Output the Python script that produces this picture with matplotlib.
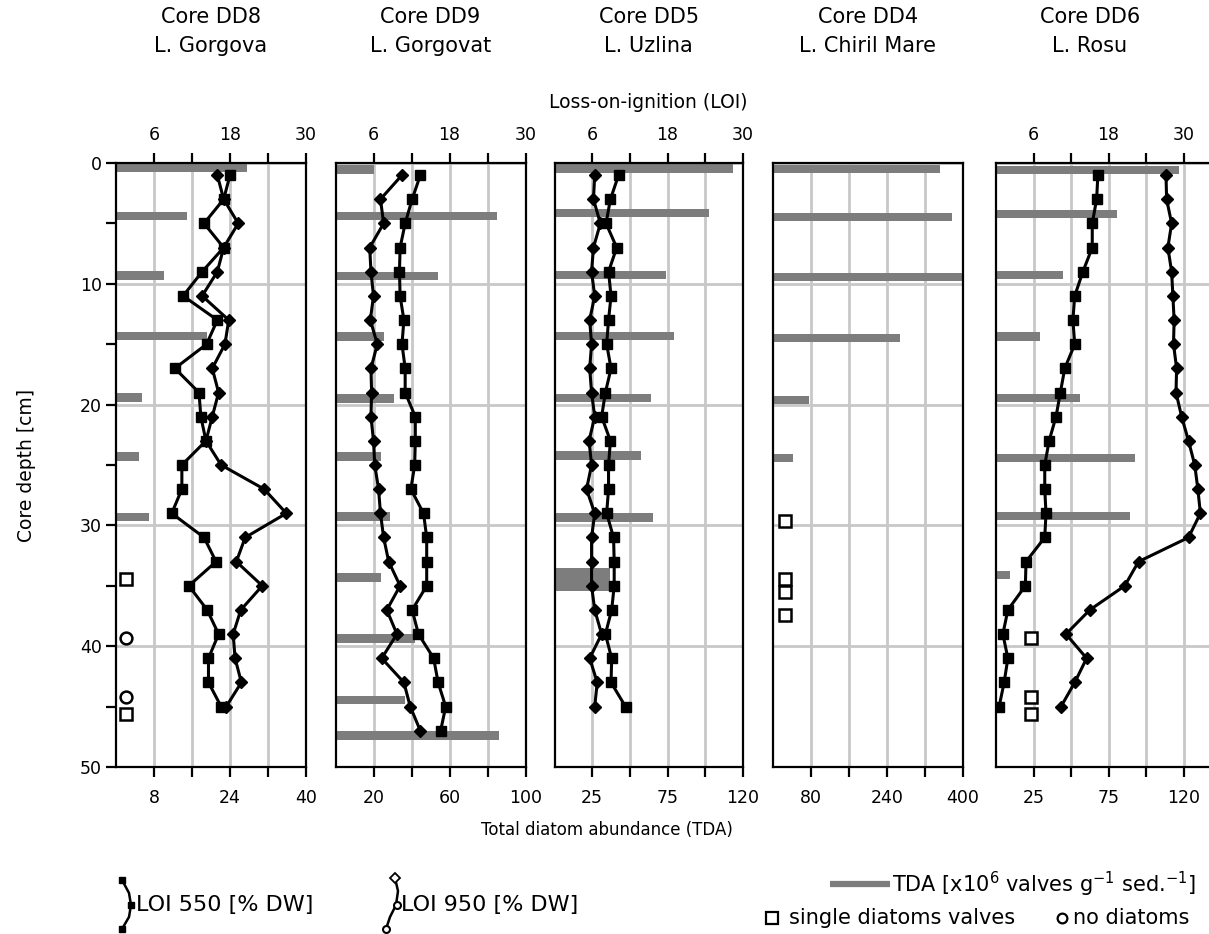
import matplotlib
matplotlib.use("Agg")
import matplotlib.pyplot as plt

plt.rcParams['font.family'] = ['DejaVu Sans']
plt.rcParams['mathtext.fontset'] = 'dejavusans'

# ---------------- data ----------------
titles = [("Core DD8", "L. Gorgova"), ("Core DD9", "L. Gorgovat"), ("Core DD5", "L. Uzlina"),
          ("Core DD4", "L. Chiril Mare"), ("Core DD6", "L. Rosu")]

# LOI sample depths (cm)
dd8_depth = [1, 3, 5, 7, 9, 11, 13, 15, 17, 19, 21, 23, 25, 27, 29, 31, 33, 35, 37, 39, 41, 43, 45]
dd8_loi550 = [18.0, 17.0, 13.9, 17.0, 13.6, 10.6, 16.0, 14.3, 9.3, 13.1, 13.4, 14.2, 10.4, 10.4, 8.8,
              13.9, 15.8, 11.5, 14.4, 16.2, 14.6, 14.6, 16.6]
dd8_loi950 = [16.0, 17.0, 19.3, 17.0, 16.0, 13.6, 17.8, 17.2, 15.2, 16.2, 15.2, 14.2, 16.6, 23.4, 26.9,
              20.4, 19.0, 23.1, 19.7, 18.5, 18.8, 19.8, 17.4]

dd9_depth = [1, 3, 5, 7, 9, 11, 13, 15, 17, 19, 21, 23, 25, 27, 29, 31, 33, 35, 37, 39, 41, 43, 45, 47]
dd9_loi550 = [13.4, 12.1, 11.0, 10.2, 10.1, 10.2, 10.8, 10.5, 11.0, 11.0, 12.6, 12.6, 12.5, 11.9, 13.9,
              14.4, 14.4, 14.4, 12.1, 13.1, 15.5, 16.2, 17.4, 16.6]
dd9_loi950 = [10.5, 7.1, 7.6, 5.4, 5.6, 6.0, 5.5, 6.6, 5.6, 5.7, 5.6, 6.0, 6.2, 6.8, 7.1, 7.6, 8.4, 10.2,
              8.1, 9.7, 7.3, 10.8, 11.8, 13.4]

dd5_depth = [1, 3, 5, 7, 9, 11, 13, 15, 17, 19, 21, 23, 25, 27, 29, 31, 33, 35, 37, 39, 41, 43, 45]
dd5_loi550 = [10.2, 8.9, 8.2, 9.9, 8.6, 9.0, 8.6, 8.3, 9.0, 8.1, 7.5, 8.9, 8.6, 8.6, 8.3, 9.4, 9.5, 9.5,
              9.1, 8.1, 9.1, 9.0, 11.3]
dd5_loi950 = [6.4, 6.2, 7.3, 6.2, 5.9, 6.4, 5.6, 5.9, 5.6, 5.9, 6.4, 5.5, 5.9, 5.1, 6.4, 5.9, 5.9, 5.9,
              6.4, 7.5, 5.6, 6.8, 6.4]

dd6_depth = [1, 3, 5, 7, 9, 11, 13, 15, 17, 19, 21, 23, 25, 27, 29, 31, 33, 35, 37, 39, 41, 43, 45]
dd6_loi550 = [16.3, 16.1, 15.4, 15.4, 13.9, 12.6, 12.3, 12.6, 11.0, 10.3, 9.6, 8.5, 7.8, 7.8, 8.0, 7.8,
              4.8, 4.7, 1.9, 1.1, 1.9, 1.3, 0.5]
dd6_loi950 = [27.2, 27.3, 28.1, 27.5, 28.1, 28.3, 28.5, 28.4, 28.9, 28.8, 29.7, 30.8, 31.8, 32.3, 32.7,
              30.8, 22.8, 20.6, 15.0, 11.2, 14.5, 12.6, 10.4]

# TDA (x10^6 valves g-1 sed.-1)
dd8_tda_depth = [0.4, 4.4, 9.3, 14.3, 19.4, 24.3, 29.3]
dd8_tda = [27.5, 14.9, 10.2, 19.2, 5.4, 4.9, 7.0]
dd9_tda_depth = [0.55, 4.4, 9.35, 14.35, 19.5, 24.3, 29.25, 34.3, 39.35, 44.45, 47.4]
dd9_tda = [20.0, 85.0, 54.0, 25.6, 30.7, 23.9, 28.7, 23.9, 42.1, 36.5, 86.3]
dd5_tda_depth = [0.45, 4.15, 9.25, 14.3, 19.45, 24.2, 29.35, 34.5]
dd5_tda = [118.7, 102.4, 73.9, 79.1, 63.8, 57.6, 65.6, 37.0]
dd4_tda_depth = [0.5, 4.45, 9.45, 14.5, 19.6, 24.4]
dd4_tda = [352, 377, 400, 268, 75, 42]
dd6_tda_depth = [0.6, 4.2, 9.25, 14.35, 19.45, 24.4, 29.2, 34.1]
dd6_tda = [122.0, 80.8, 44.6, 29.5, 56.2, 92.6, 89.3, 9.6]

# single diatom valves / no diatoms (depths)
dd8_single = [34.4, 45.6]
dd8_none = [39.3, 44.2]
dd4_single = [29.6, 34.4, 35.5, 37.4]
dd6_single = [39.3, 44.2, 45.6]

depth_ticks = [0, 10, 20, 30, 40, 50]
loi_ticks = [6, 12, 18, 24, 30]
loi_labels = ["6", "", "18", "", "30"]
dd8_tda_ticks, dd8_tda_labels = [8, 16, 24, 32, 40], ["8", "", "24", "", "40"]
dd9_tda_ticks, dd9_tda_labels = [20, 40, 60, 80, 100], ["20", "", "60", "", "100"]
dd5_tda_ticks, dd5_tda_labels = [25, 50, 75, 100, 125], ["25", "", "75", "", "120"]
dd4_tda_ticks, dd4_tda_labels = [80, 160, 240, 320, 400], ["80", "", "240", "", "400"]
dd6_tda_ticks, dd6_tda_labels = [25, 50, 75, 100, 125], ["25", "", "75", "", "120"]

# ---------------- layout / style ----------------
W, H = 1209, 934
TOP, BOT = 163, 767
BAR_COLOR = '#7d7d7d'
GRID_COLOR = '#c8c8c8'
TICK_FS = 12.5
fig = plt.figure(figsize=(W / 100, H / 100), dpi=100)


def rect(x0, x1):
    return [x0 / W, 1 - BOT / H, (x1 - x0) / W, (BOT - TOP) / H]


panels = [
    dict(x0=116, x1=306, tda_max=40, loi_max=30, tda=(dd8_tda_depth, dd8_tda),
         loi=(dd8_depth, dd8_loi550, dd8_loi950), ticks=(dd8_tda_ticks, dd8_tda_labels),
         single=dd8_single, none=dd8_none, mx=2.0, thick=None),
    dict(x0=335.5, x1=525.5, tda_max=100, loi_max=30, tda=(dd9_tda_depth, dd9_tda),
         loi=(dd9_depth, dd9_loi550, dd9_loi950), ticks=(dd9_tda_ticks, dd9_tda_labels),
         single=[], none=[], mx=0, thick=None),
    dict(x0=554.5, x1=743, tda_max=125, loi_max=30, tda=(dd5_tda_depth, dd5_tda),
         loi=(dd5_depth, dd5_loi550, dd5_loi950), ticks=(dd5_tda_ticks, dd5_tda_labels),
         single=[], none=[], mx=0, thick=-1),
    dict(x0=773, x1=962.5, tda_max=400, loi_max=None, tda=(dd4_tda_depth, dd4_tda),
         loi=None, ticks=(dd4_tda_ticks, dd4_tda_labels),
         single=dd4_single, none=[], mx=25, thick=None),
    dict(x0=996, x1=996 + 187.5 * 35 / 30, tda_max=125 * 35 / 30, loi_max=35, tda=(dd6_tda_depth, dd6_tda),
         loi=(dd6_depth, dd6_loi550, dd6_loi950), ticks=(dd6_tda_ticks, dd6_tda_labels),
         single=dd6_single, none=[], mx=23.5, thick=None),
]

for i, p in enumerate(panels):
    ax = fig.add_axes(rect(p['x0'], p['x1']))
    ax.set_xlim(0, p['tda_max'])
    ax.set_ylim(50, 0)
    ax.set_axisbelow(True)
    for s in ax.spines.values():
        s.set_linewidth(1.6)
    if i == 4:
        ax.spines['right'].set_visible(False)
    # bars
    d, v = p['tda']
    heights = [0.7] * len(d)
    if p['thick'] is not None:
        heights[p['thick']] = 1.9
    ax.barh(d, v, height=heights, color=BAR_COLOR, zorder=2)
    # symbols
    if p['single']:
        ax.plot([p['mx']] * len(p['single']), p['single'], ls='none', marker='s', ms=9,
                mfc='white', mec='black', mew=1.8, zorder=3, clip_on=False)
    if p['none']:
        ax.plot([p['mx']] * len(p['none']), p['none'], ls='none', marker='o', ms=8.5,
                mfc='white', mec='black', mew=1.8, zorder=3)
    # ticks and grid
    tt, tl = p['ticks']
    ax.set_xticks(tt)
    ax.set_xticklabels(tl)
    ax.set_yticks(depth_ticks)
    ax.grid(True, color=GRID_COLOR, lw=2.0)
    ax.tick_params(axis='x', direction='out', length=7, width=1.6, labelsize=TICK_FS, pad=9,
                   top=False)
    if i == 0:
        ax.set_yticks([5, 15, 25, 35, 45], minor=True)
        ax.tick_params(axis='y', which='both', direction='out', length=7, width=1.6,
                       labelsize=TICK_FS, pad=3)
        ax.set_ylabel("Core depth [cm]", fontsize=13.5)
        ax.yaxis.set_label_coords((36 - p['x0']) / (p['x1'] - p['x0']), 0.5)
    else:
        ax.tick_params(axis='y', length=0, labelleft=False)
    # LOI curves
    if p['loi'] is not None:
        axt = ax.twiny()
        axt.set_xlim(0, p['loi_max'])
        dep, l550, l950 = p['loi']
        axt.plot(l550, dep, color='black', lw=2.2, marker='s', ms=7, zorder=5)
        axt.plot(l950, dep, color='black', lw=2.2, marker='D', ms=6.5, zorder=5)
        axt.set_xticks(loi_ticks)
        axt.set_xticklabels(loi_labels)
        axt.tick_params(axis='x', direction='out', length=7, width=1.6, labelsize=TICK_FS, pad=7)
        axt.tick_params(axis='y', left=False, right=False, labelleft=False, labelright=False)
        for s in axt.spines.values():
            s.set_visible(False)
    # title (centered on 0-30 LOI span)
    cx = p['x0'] + (p['x1'] - p['x0']) * (30 / 35 if i == 4 else 1) / 2
    fig.text(cx / W, 1 - 17 / H, titles[i][0], ha='center', va='center', fontsize=15)
    fig.text(cx / W, 1 - 46 / H, titles[i][1], ha='center', va='center', fontsize=15)

fig.text(648 / W, 1 - 103 / H, "Loss-on-ignition (LOI)", ha='center', va='center', fontsize=13.5)
fig.text(607 / W, 1 - 830 / H, "Total diatom abundance (TDA)", ha='center', va='center', fontsize=12)

# ---------------- legend (overlay in pixel coords) ----------------
lg = fig.add_axes([0, 0, 1, 1])
lg.set_xlim(0, W)
lg.set_ylim(H, 0)
lg.axis('off')
lg.plot([122, 129, 131, 129, 122], [880, 893, 905, 917, 929], color='black', lw=1.8,
        marker='s', ms=5, markevery=[0, 2, 4])
lg.text(136, 905, "LOI 550 [% DW]", va='center', ha='left', fontsize=16)
lg.plot([395, 398, 396, 390, 386], [878, 891, 905, 917, 929], color='black', lw=1.8)
lg.plot([395], [878], marker='D', ms=5, mfc='white', mec='black', mew=1.3)
lg.plot([397, 386], [905, 929], ls='none', marker='o', ms=5, mfc='white', mec='black', mew=1.5)
lg.text(401, 905, "LOI 950 [% DW]", va='center', ha='left', fontsize=16)
lg.plot([830, 890], [884, 884], color=BAR_COLOR, lw=4.5, solid_capstyle='butt')
lg.text(892, 884, r"TDA [x10$^{6}$ valves g$^{-1}$ sed.$^{-1}$]", va='center', ha='left', fontsize=15)
lg.plot([772], [918], marker='s', ms=8, mfc='white', mec='black', mew=1.6, ls='none')
lg.text(789, 918, "single diatoms valves", va='center', ha='left', fontsize=15)
lg.plot([1062], [918], marker='o', ms=7, mfc='white', mec='black', mew=1.6, ls='none')
lg.text(1073, 918, "no diatoms", va='center', ha='left', fontsize=15)

fig.savefig("out.png", dpi=100)
